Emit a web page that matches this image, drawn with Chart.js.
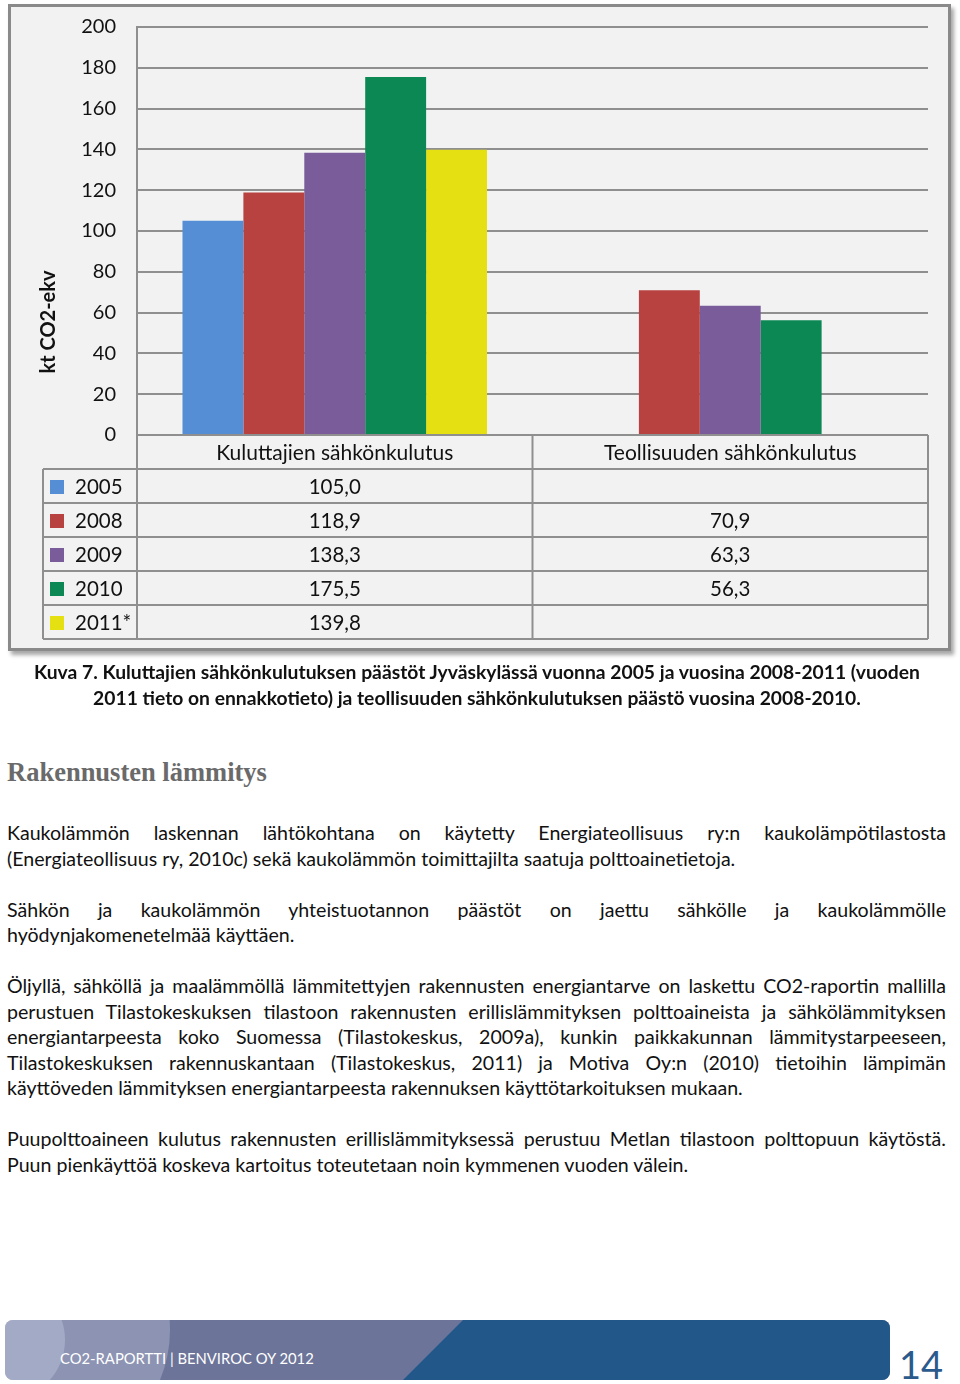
<!DOCTYPE html>
<html lang="fi">
<head>
<meta charset="utf-8">
<title>Kuva 7</title>
<script src="https://cdn.jsdelivr.net/npm/chart.js@4.4.1/dist/chart.umd.min.js"></script>
<style>
  html, body { margin: 0; padding: 0; background: #fff; }
  body { width: 960px; height: 1384px; position: relative; overflow: hidden; font-family: Lato, "Open Sans", sans-serif; color: #111; }
  .frame { position: absolute; left: 8px; top: 4px; width: 937px; height: 641px; background: #f2f2f2;
           border: 3px solid #8a8a8a; box-shadow: 3px 4px 4px rgba(0,0,0,0.35); }
  #chartWrap { position: absolute; left: 0; top: 0; width: 960px; height: 660px; }
  .caption { position: absolute; left: 0; top: 659px; width: 954px; text-align: center; font-weight: bold;
             font-size: 19.3px; line-height: 25.5px; }
  h2 { position: absolute; left: 7px; top: 757px; margin: 0; font-family: "Liberation Serif", serif; font-weight: bold;
       font-size: 26.5px; color: #6a6a6a; }
  .text { position: absolute; left: 7px; top: 820px; width: 939px; font-size: 19.6px; line-height: 25.5px; }
  .text p { margin: 0 0 25.5px 0; }
  .text .j { display: block; text-align: justify; text-align-last: justify; }
  .footer { position: absolute; left: 5px; top: 1320px; width: 885px; height: 60px; border-radius: 8px;
            overflow: hidden; background: #6c7499; }
  .footer .c1 { position: absolute; left: -95px; top: -120px; width: 260px; height: 260px; border-radius: 50%; background: rgba(200,205,230,0.35); }
  .footer .c2 { position: absolute; left: -60px; top: -40px; width: 120px; height: 120px; border-radius: 50%; background: rgba(220,225,240,0.3); }
  .footer .dark { position: absolute; left: 0; top: 0; width: 885px; height: 60px; background: #22578a;
                  clip-path: polygon(458px 0, 885px 0, 885px 60px, 398px 60px); }
  .footer span { position: absolute; left: 55px; top: 29px; color: #fff; font-size: 14.8px; }
  .page { position: absolute; left: 899px; top: 1342px; font-size: 38px; color: #2b5a8c; font-weight: 400; line-height: 44px; }
</style>
</head>
<body>
<div class="frame"></div>
<div id="chartWrap"><canvas id="co2Chart" width="960" height="660"></canvas></div>

<div class="caption">Kuva 7. Kuluttajien sähkönkulutuksen päästöt Jyväskylässä vuonna 2005 ja vuosina 2008-2011 (vuoden<br>2011 tieto on ennakkotieto) ja teollisuuden sähkönkulutuksen päästö vuosina 2008-2010.</div>

<h2>Rakennusten lämmitys</h2>

<div class="text">
  <p><span class="j">Kaukolämmön laskennan lähtökohtana on käytetty Energiateollisuus ry:n kaukolämpötilastosta</span>(Energiateollisuus ry, 2010c) sekä kaukolämmön toimittajilta saatuja polttoainetietoja.</p>
  <p><span class="j">Sähkön ja kaukolämmön yhteistuotannon päästöt on jaettu sähkölle ja kaukolämmölle</span>hyödynjakomenetelmää käyttäen.</p>
  <p><span class="j">Öljyllä, sähköllä ja maalämmöllä lämmitettyjen rakennusten energiantarve on laskettu CO2-raportin mallilla</span><span class="j">perustuen Tilastokeskuksen tilastoon rakennusten erillislämmityksen polttoaineista ja sähkölämmityksen</span><span class="j">energiantarpeesta koko Suomessa (Tilastokeskus, 2009a), kunkin paikkakunnan lämmitystarpeeseen,</span><span class="j">Tilastokeskuksen rakennuskantaan (Tilastokeskus, 2011) ja Motiva Oy:n (2010) tietoihin lämpimän</span>käyttöveden lämmityksen energiantarpeesta rakennuksen käyttötarkoituksen mukaan.</p>
  <p><span class="j">Puupolttoaineen kulutus rakennusten erillislämmityksessä perustuu Metlan tilastoon polttopuun käytöstä.</span>Puun pienkäyttöä koskeva kartoitus toteutetaan noin kymmenen vuoden välein.</p>
</div>

<div class="footer">
  <div class="c1"></div>
  <div class="c2"></div>
  <div class="dark"></div>
  <span>CO2-RAPORTTI | BENVIROC OY 2012</span>
</div>
<div class="page">14</div>

<script>
// chart data
const categories = ['Kuluttajien sähkönkulutus', 'Teollisuuden sähkönkulutus'];
const years = ['2005', '2008', '2009', '2010', '2011*'];
const values2005 = [105.0, null];
const values2008 = [118.9, 70.9];
const values2009 = [138.3, 63.3];
const values2010 = [175.5, 56.3];
const values2011 = [139.8, null];
const yTicks = [0, 20, 40, 60, 80, 100, 120, 140, 160, 180, 200];
const colors = ['#558ed5', '#b7423f', '#7a5c9a', '#0b8853', '#e4e012'];

const seriesValues = [values2005, values2008, values2009, values2010, values2011];
const fontFamily = 'Lato, "Open Sans", sans-serif';
const lineColor = '#8f8f8f';

const fmt = v => v === null ? '' : v.toFixed(1).replace('.', ',');

// draws the data table under the plot and the y axis title
const dataTablePlugin = {
    id: 'dataTable',
    afterDraw(chart) {
        const ctx = chart.ctx;
        const x = chart.scales.x;
        const top = chart.chartArea.bottom;
        const rowH = 34;
        const tableLeft = 43;
        const colW = (x.right - x.left) / categories.length;
        const bottom = top + rowH * (years.length + 1);

        ctx.save();
        ctx.strokeStyle = lineColor;
        ctx.lineWidth = 2;
        ctx.beginPath();
        for (let r = 1; r <= years.length + 1; r++) {
            const y = top + rowH * r;
            ctx.moveTo(tableLeft, y);
            ctx.lineTo(x.right, y);
        }
        ctx.moveTo(tableLeft, top + rowH);
        ctx.lineTo(tableLeft, bottom);
        for (let c = 0; c <= categories.length; c++) {
            const cx = x.left + colW * c;
            ctx.moveTo(cx, top);
            ctx.lineTo(cx, bottom);
        }
        ctx.stroke();

        ctx.fillStyle = '#111';
        ctx.font = '21px ' + fontFamily;
        ctx.textAlign = 'center';
        ctx.textBaseline = 'middle';
        categories.forEach((cat, c) => {
            ctx.fillText(cat, x.left + colW * (c + 0.5), top + rowH / 2 + 1);
        });

        ctx.font = '20.5px ' + fontFamily;
        years.forEach((year, r) => {
            const cy = top + rowH * (r + 1.5) + 1;
            ctx.fillStyle = colors[r];
            ctx.fillRect(50, cy - 7, 14, 14);
            ctx.fillStyle = '#111';
            ctx.textAlign = 'left';
            ctx.fillText(year, 75, cy);
            ctx.textAlign = 'center';
            seriesValues[r].forEach((v, c) => {
                ctx.fillText(fmt(v), x.left + colW * (c + 0.5), cy);
            });
        });

        // y axis title
        ctx.translate(49, 322);
        ctx.rotate(-Math.PI / 2);
        ctx.font = 'bold 20px ' + fontFamily;
        ctx.textAlign = 'center';
        ctx.fillText('kt CO2-ekv', 0, 0);
        ctx.restore();
    }
};

const ctx = document.getElementById('co2Chart').getContext('2d');
new Chart(ctx, {
    type: 'bar',
    data: {
        labels: categories,
        datasets: years.map((year, i) => ({
            label: year,
            data: seriesValues[i],
            backgroundColor: colors[i],
            borderWidth: 0,
            barPercentage: 1,
            categoryPercentage: 0.77
        }))
    },
    options: {
        responsive: false,
        animation: false,
        layout: { padding: { left: 0, right: 32, top: 27, bottom: 225 } },
        plugins: {
            legend: { display: false },
            tooltip: { enabled: false }
        },
        scales: {
            x: {
                display: false,
                grid: { display: false }
            },
            y: {
                min: 0,
                max: 200,
                afterBuildTicks: scale => { scale.ticks = yTicks.map(v => ({ value: v })); },
                afterFit: scale => {
                    scale.width = 137;
                    scale.paddingTop = 0;
                    scale.paddingBottom = 0;
                },
                border: { display: true, color: lineColor, width: 2 },
                grid: { color: lineColor, lineWidth: 2, drawTicks: false },
                ticks: {
                    color: '#111',
                    padding: 21,
                    font: { family: fontFamily, size: 20 }
                }
            }
        }
    },
    plugins: [dataTablePlugin]
});
</script>
</body>
</html>
